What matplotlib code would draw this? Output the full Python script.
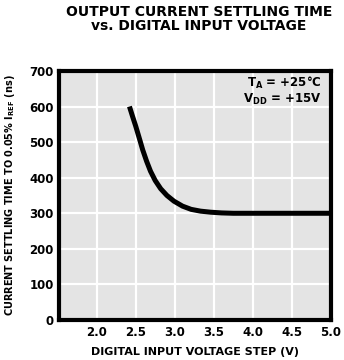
import matplotlib.pyplot as plt

# curve
v_step = [2.42, 2.46, 2.50, 2.55, 2.59, 2.64, 2.69, 2.75, 2.82, 2.90, 2.99,
          3.10, 3.21, 3.33, 3.46, 3.60, 3.75, 4.0, 4.5, 5.0]
t_settle = [600, 572, 545, 508, 478, 446, 418, 392, 369, 350, 334,
            320, 311, 306, 303, 301, 300, 300, 300, 300]

x_ticks = [2.0, 2.5, 3.0, 3.5, 4.0, 4.5, 5.0]
x_labels = ['2.0', '2.5', '3.0', '3.5', '4.0', '4.5', '5.0']
y_ticks = [0, 100, 200, 300, 400, 500, 600, 700]

fig = plt.figure(figsize=(3.44, 3.6), dpi=100)
ax = fig.add_axes([0.172, 0.111, 0.79, 0.692])
ax.set_facecolor('#e4e4e4')

ax.plot(v_step, t_settle, color='black', lw=3.6, solid_capstyle='butt',
        solid_joinstyle='round', zorder=3)

ax.set_xlim(1.52, 5.0)
ax.set_ylim(0, 700)
ax.set_xticks(x_ticks)
ax.set_xticklabels(x_labels)
ax.set_yticks(y_ticks)
ax.grid(True, color='white', lw=1.6, zorder=1)
ax.set_axisbelow(True)
ax.tick_params(length=0, pad=4, labelsize=8.5)
for lbl in ax.get_xticklabels() + ax.get_yticklabels():
    lbl.set_fontweight('bold')
for s in ax.spines.values():
    s.set_linewidth(3)

ax.set_xlabel('DIGITAL INPUT VOLTAGE STEP (V)', fontsize=8, fontweight='bold',
              labelpad=6)
ax.set_ylabel('CURRENT SETTLING TIME TO 0.05% I$_{\\mathbf{REF}}$ (ns)', fontsize=7,
              fontweight='bold', labelpad=9)

ax.text(0.965, 0.985, 'T$_{\\mathbf{A}}$ = +25°C\nV$_{\\mathbf{DD}}$ = +15V',
        transform=ax.transAxes, ha='right', va='top', fontsize=8.5,
        fontweight='bold', linespacing=1.1)

fig.text(0.578, 0.985, 'OUTPUT CURRENT SETTLING TIME\nvs. DIGITAL INPUT VOLTAGE',
         ha='center', va='top', fontsize=10, fontweight='bold', linespacing=0.95)

fig.savefig('out.png', dpi=100)
